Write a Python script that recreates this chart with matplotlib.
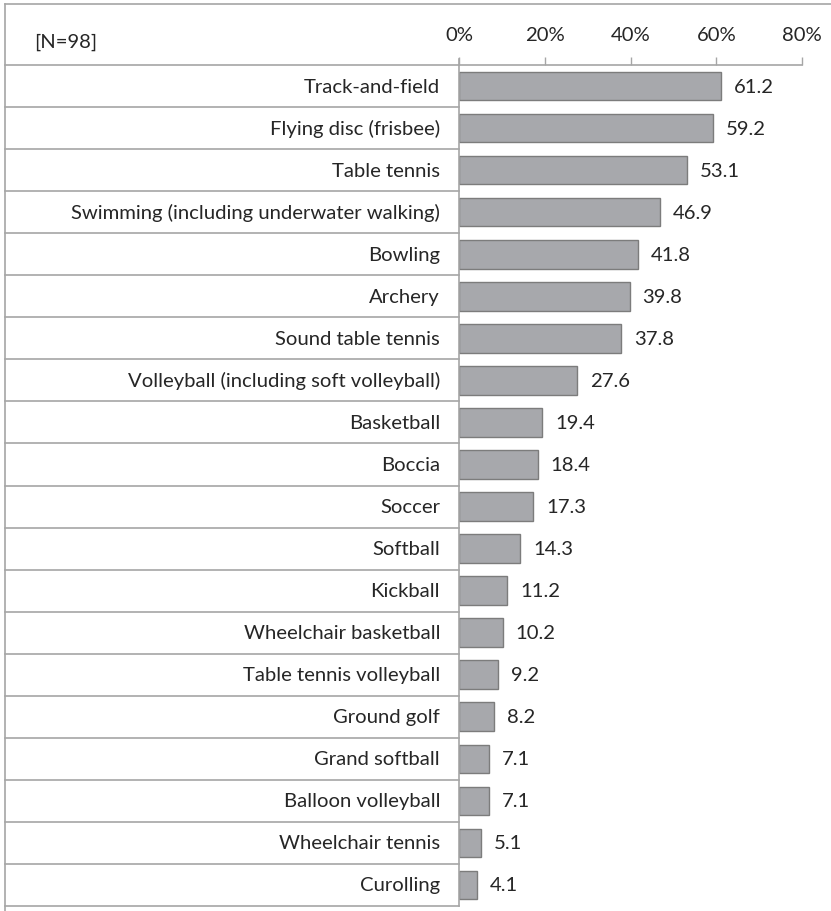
import matplotlib.pyplot as plt
from matplotlib.lines import Line2D
from matplotlib.transforms import blended_transform_factory

plt.rcParams['font.family'] = ['Lato', 'DejaVu Sans']

sports = ['Track-and-field', 'Flying disc (frisbee)', 'Table tennis',
          'Swimming (including underwater walking)', 'Bowling', 'Archery',
          'Sound table tennis', 'Volleyball (including soft volleyball)',
          'Basketball', 'Boccia', 'Soccer', 'Softball', 'Kickball',
          'Wheelchair basketball', 'Table tennis volleyball', 'Ground golf',
          'Grand softball', 'Balloon volleyball', 'Wheelchair tennis', 'Curolling']
percent = [61.2, 59.2, 53.1, 46.9, 41.8, 39.8, 37.8, 27.6, 19.4, 18.4,
           17.3, 14.3, 11.2, 10.2, 9.2, 8.2, 7.1, 7.1, 5.1, 4.1]
ticks = [0, 20, 40, 60, 80]
sample = '[N=98]'

W, H = 831, 912
fig = plt.figure(figsize=(W / 100, H / 100), dpi=100)
line_col = '#a6a6a6'
text_col = '#262626'
fs = 14.6

# bar area: x 459..802, y 66..907 (pixels from top)
x0, x1, ytop, ybot = 459, 802, 66, 907
ax = fig.add_axes([x0 / W, 1 - ybot / H, (x1 - x0) / W, (ybot - ytop) / H])

y = list(range(len(sports)))
ax.barh(y, percent, height=0.68, color='#a7a8ac', edgecolor='#7c7c7c', linewidth=1.0)
for yi, v in zip(y, percent):
    ax.text(v + 3.0, yi, f'{v:.1f}', va='center', ha='left', fontsize=fs, color=text_col)

ax.set_xlim(0, 80)
ax.set_ylim(len(sports) - 0.5, -0.5)
ax.set_xticks(ticks)
ax.set_xticklabels([f'{t}%' for t in ticks], fontsize=fs, color=text_col)
ax.xaxis.tick_top()
ax.tick_params(axis='x', direction='out', length=6, width=1, color=line_col, pad=10)
ax.set_yticks([])
for side in ['right', 'bottom']:
    ax.spines[side].set_visible(False)
ax.spines['top'].set_color(line_col)
ax.spines['left'].set_color(line_col)
ax.spines['top'].set_linewidth(1.2)
ax.spines['left'].set_linewidth(1.2)

# label column with row separators
left_frac = (5 - x0) / (x1 - x0)
tr = blended_transform_factory(ax.transAxes, ax.transData)
for b in [i - 0.5 for i in range(len(sports) + 1)]:
    ax.plot([left_frac, 0], [b, b], transform=tr, color=line_col, lw=1.2, clip_on=False)
label_x = (440 - x0) / (x1 - x0)
for yi, name in zip(y, sports):
    ax.text(label_x, yi, name, transform=tr, ha='right', va='center', fontsize=fs, color=text_col)

# left vertical line under the ticks
ax.plot([0, 0], [-0.5, -0.5 - 6 / 42], transform=tr, color=line_col, lw=1.2, clip_on=False)

# outer frame
fig.add_artist(Line2D([5 / W, 1], [1 - 5 / H, 1 - 5 / H], color=line_col, lw=1.2))
fig.add_artist(Line2D([5 / W, 5 / W], [0, 1 - 5 / H], color=line_col, lw=1.2))

fig.text(34 / W, 1 - 42 / H, sample, ha='left', va='center', fontsize=fs, color=text_col)

fig.savefig('out.png', dpi=100)
